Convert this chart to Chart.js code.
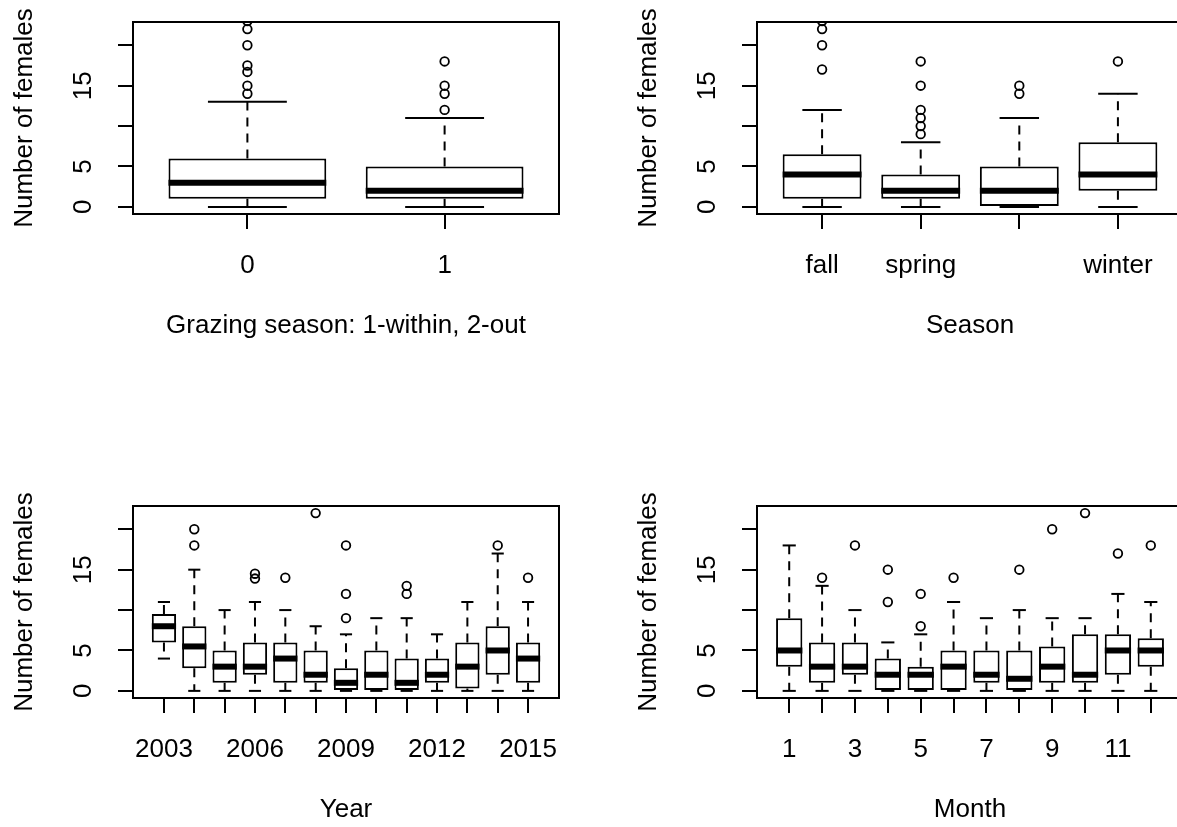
<!DOCTYPE html>
<html><head><meta charset="utf-8">
<script src="https://cdn.jsdelivr.net/npm/chart.js@4/dist/chart.umd.min.js"></script>
<style>
html,body{margin:0;padding:0;background:#fff;overflow:hidden;width:1177px;height:827px}
.cell{position:absolute;width:624px;height:484px}
canvas{display:block}
</style></head><body>
<div class="cell" style="left:0;top:0"><canvas id="c1" width="624" height="484"></canvas></div>
<div class="cell" style="left:624px;top:0"><canvas id="c2" width="624" height="484"></canvas></div>
<div class="cell" style="left:0;top:484px"><canvas id="c3" width="624" height="484"></canvas></div>
<div class="cell" style="left:624px;top:484px"><canvas id="c4" width="624" height="484"></canvas></div>
<script>
// ---------- shared axis data ----------
const yTickValues = [0, 5, 10, 15, 20];
const yTickLabels = ['0', '5', '', '15', ''];
const yTitle = 'Number of females';

// ---------- panel 1: grazing season ----------
const grazingCategories = ['0', '1'];
const grazingTickLabels = ['0', '1'];
const grazingLower  = [0, 0];
const grazingQ1     = [1, 1];
const grazingMedian = [3, 2];
const grazingQ3     = [6, 5];
const grazingUpper  = [13, 11];
const grazingOutliers = [[14, 15, 16.7, 17.5, 20, 22, 23], [12, 14, 15, 18]];
const grazingTitle = 'Grazing season: 1-within, 2-out';

// ---------- panel 2: season ----------
const seasonCategories = ['fall', 'spring', 'summer', 'winter'];
const seasonTickLabels = ['fall', 'spring', '', 'winter'];
const seasonLower  = [0, 0, 0, 0];
const seasonQ1     = [1, 1, 0, 2];
const seasonMedian = [4, 2, 2, 4];
const seasonQ3     = [6.5, 4, 5, 8];
const seasonUpper  = [12, 8, 11, 14];
const seasonOutliers = [[17, 20, 22, 23], [9, 10, 11, 12, 15, 18], [14, 15], [18]];
const seasonTitle = 'Season';

// ---------- panel 3: year ----------
const yearCategories = ['2003','2004','2005','2006','2007','2008','2009','2010','2011','2012','2013','2014','2015'];
const yearTickLabels = ['2003','','','2006','','','2009','','','2012','','','2015'];
const yearLower  = [4, 0, 0, 0, 0, 0, 0, 0, 0, 0, 0, 0, 0];
const yearQ1     = [6, 2.8, 1, 2, 1, 1, 0, 0, 0, 1, 0.3, 2, 1];
const yearMedian = [8, 5.5, 3, 3, 4, 2, 1, 2, 1, 2, 3, 5, 4];
const yearQ3     = [9.5, 8, 5, 6, 6, 5, 2.8, 5, 4, 4, 6, 8, 6];
const yearUpper  = [11, 15, 10, 11, 10, 8, 7, 9, 9, 7, 11, 17, 11];
const yearOutliers = [[], [18, 20], [], [13.9, 14.5], [14], [22], [9, 12, 18], [], [12, 13], [], [], [18], [14]];
const yearTitle = 'Year';

// ---------- panel 4: month ----------
const monthCategories = ['1','2','3','4','5','6','7','8','9','10','11','12'];
const monthTickLabels = ['1','','3','','5','','7','','9','','11',''];
const monthLower  = [0, 0, 0, 0, 0, 0, 0, 0, 0, 0, 0, 0];
const monthQ1     = [3, 1, 2, 0, 0, 0, 1, 0, 1, 1, 2, 3];
const monthMedian = [5, 3, 3, 2, 2, 3, 2, 1.5, 3, 2, 5, 5];
const monthQ3     = [9, 6, 6, 4, 3, 5, 5, 5, 5.5, 7, 7, 6.5];
const monthUpper  = [18, 13, 10, 6, 7, 11, 9, 10, 9, 9, 12, 11];
const monthOutliers = [[], [14], [18], [11, 15], [8, 12], [14], [], [15], [20], [22], [17], [18]];
const monthTitle = 'Month';

// ---------- drawing ----------
const FONT = {family: "'Liberation Sans', Arial, sans-serif", size: 26};
const BOX_WIDTH = 0.8;     // in category units (R boxwex)
const STAPLE_WIDTH = 0.4;  // in category units

const framePlugin = {
  id: 'frame',
  afterDraw(chart) {
    const a = chart.chartArea, ctx = chart.ctx;
    ctx.save();
    ctx.strokeStyle = '#000';
    ctx.lineWidth = 2;
    ctx.strokeRect(a.left, a.top, a.right - a.left, a.bottom - a.top);
    ctx.restore();
  }
};

function unitPx(chart) {
  const s = chart.scales.x;
  return Math.abs(s.getPixelForValue(2) - s.getPixelForValue(1));
}

function makePanel(id, cats, tickLabels, lo, q1, med, q3, hi, outs, xTitle) {
  const n = cats.length;
  const ext = 0.04 * n;
  const boxes = cats.map((c, i) => ({x: i + 1, y: [q1[i], q3[i]]}));
  const whiskers = [];
  cats.forEach((c, i) => {
    whiskers.push({x: i + 1, y: q3[i]}, {x: i + 1, y: hi[i]}, {x: i + 1, y: null});
    whiskers.push({x: i + 1, y: q1[i]}, {x: i + 1, y: lo[i]}, {x: i + 1, y: null});
  });
  const staples = [];
  cats.forEach((c, i) => { staples.push({x: i + 1, y: lo[i]}, {x: i + 1, y: hi[i]}); });
  const medians = cats.map((c, i) => ({x: i + 1, y: med[i]}));
  const outliers = [];
  cats.forEach((c, i) => outs[i].forEach(v => outliers.push({x: i + 1, y: v})));

  const gridOpts = {display: true, drawOnChartArea: false, drawTicks: true, tickLength: 15, offset: false,
                    color: '#000', lineWidth: 2, tickColor: '#000', tickWidth: 2};

  return new Chart(document.getElementById(id), {
    type: 'bar',
    data: {datasets: [
      {type: 'bar', data: boxes, backgroundColor: '#fff', borderColor: '#000', borderWidth: 2,
       borderSkipped: false, barPercentage: BOX_WIDTH, categoryPercentage: 1, order: 5},
      {type: 'line', data: whiskers, borderColor: '#000', borderWidth: 2, borderDash: [9, 7],
       pointRadius: 0, spanGaps: false, fill: false, order: 4},
      {type: 'scatter', data: staples, pointStyle: 'line', borderColor: '#000', borderWidth: 2,
       pointRadius: ctx => STAPLE_WIDTH / 2 * unitPx(ctx.chart), order: 3},
      {type: 'scatter', data: medians, pointStyle: 'line', borderColor: '#000', borderWidth: 6,
       pointRadius: ctx => BOX_WIDTH / 2 * unitPx(ctx.chart), order: 1},
      {type: 'scatter', data: outliers, pointStyle: 'circle', borderColor: '#000', borderWidth: 1.8,
       backgroundColor: 'rgba(0,0,0,0)', pointRadius: 4.3, order: 2}
    ]},
    options: {
      responsive: false, animation: false, devicePixelRatio: 1, events: [],
      layout: {padding: {left: 0, top: 22, right: 65, bottom: 0}, autoPadding: false},
      plugins: {legend: {display: false}, tooltip: {enabled: false}},
      scales: {
        x: {
          type: 'linear', offset: false, min: 0.5 - ext, max: n + 0.5 + ext,
          afterBuildTicks: ax => { ax.ticks = cats.map((c, i) => ({value: i + 1})); },
          afterFit: ax => { ax.height = 270; ax.paddingLeft = 0; ax.paddingRight = 0; },
          ticks: {autoSkip: false, minRotation: 0, maxRotation: 0, padding: 21, color: '#000', font: FONT,
                  callback: (v, i) => tickLabels[i]},
          grid: gridOpts,
          border: {display: false},
          title: {display: true, text: xTitle, color: '#000', font: FONT, padding: {top: 0, bottom: 143}}
        },
        y: {
          type: 'linear', offset: false, min: -0.88, max: 22.88,
          afterBuildTicks: ax => { ax.ticks = yTickValues.map(v => ({value: v})); },
          afterFit: ax => { ax.width = 133; ax.paddingTop = 0; ax.paddingBottom = 0; },
          ticks: {autoSkip: false, minRotation: 90, maxRotation: 90, crossAlign: 'center', padding: 20,
                  color: '#000', font: FONT,
                  callback: (v) => yTickLabels[yTickValues.indexOf(v)]},
          grid: gridOpts,
          border: {display: false},
          title: {display: true, text: yTitle, color: '#000', font: FONT, padding: {top: 9, bottom: 0}}
        }
      }
    },
    plugins: [framePlugin]
  });
}

makePanel('c1', grazingCategories, grazingTickLabels, grazingLower, grazingQ1, grazingMedian, grazingQ3, grazingUpper, grazingOutliers, grazingTitle);
makePanel('c2', seasonCategories, seasonTickLabels, seasonLower, seasonQ1, seasonMedian, seasonQ3, seasonUpper, seasonOutliers, seasonTitle);
makePanel('c3', yearCategories, yearTickLabels, yearLower, yearQ1, yearMedian, yearQ3, yearUpper, yearOutliers, yearTitle);
makePanel('c4', monthCategories, monthTickLabels, monthLower, monthQ1, monthMedian, monthQ3, monthUpper, monthOutliers, monthTitle);
</script>
</body></html>
